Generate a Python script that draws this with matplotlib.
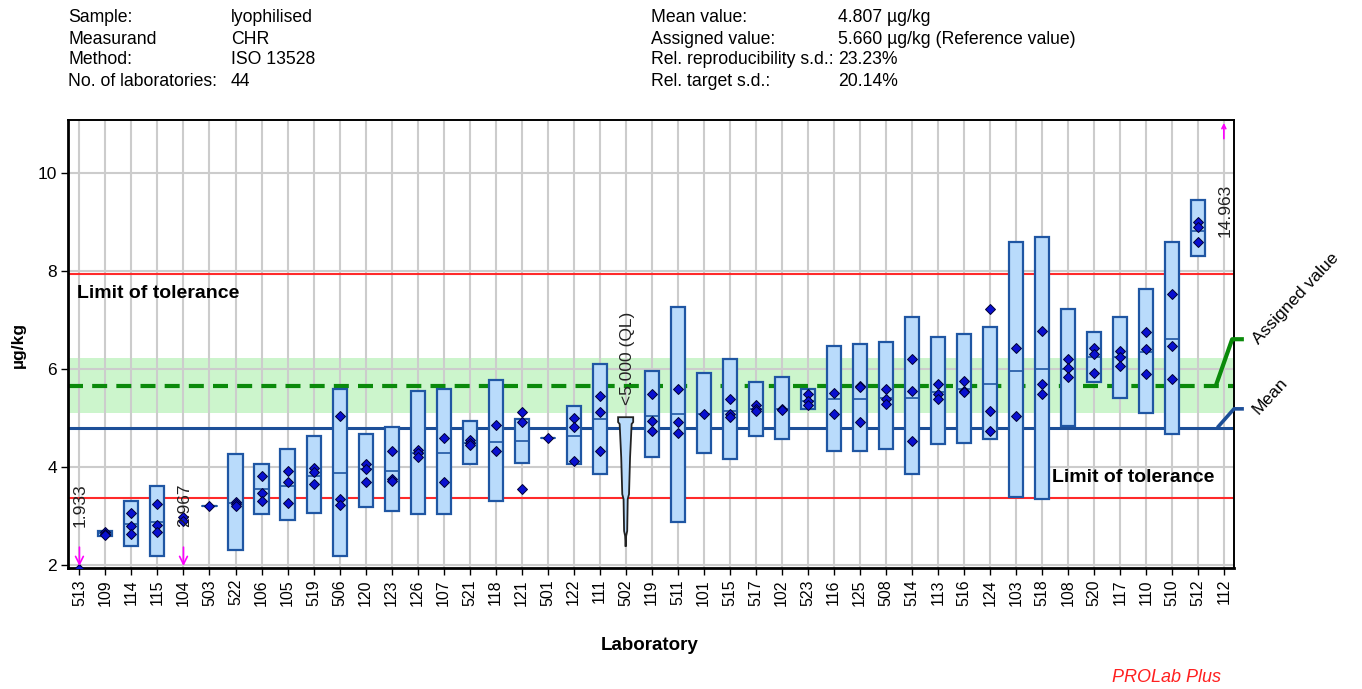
import matplotlib
matplotlib.use('Agg')
import matplotlib.pyplot as plt
from matplotlib.patches import Rectangle, Polygon
import numpy as np

plt.rcParams['font.family'] = ['Liberation Sans', 'DejaVu Sans']

# ---------------- data ----------------
labs = ['513', '109', '114', '115', '104', '503', '522', '106', '105', '519',
        '506', '120', '123', '126', '107', '521', '118', '121', '501', '122',
        '111', '502', '119', '511', '101', '515', '517', '102', '523', '116',
        '125', '508', '514', '113', '516', '124', '103', '518', '108', '520',
        '117', '110', '510', '512', '112']

box_low = [None, 2.60, 2.39, 2.18, None, 3.21, 2.32, 3.04, 2.93, 3.07,
           2.18, 3.18, 3.11, 3.04, 3.04, 4.06, 3.31, 4.09, 4.60, 4.06,
           3.86, None, 4.20, 2.89, 4.30, 4.16, 4.64, 4.57, 5.19, 4.33,
           4.33, 4.37, 3.86, 4.47, 4.50, 4.57, 3.40, 3.35, 4.84, 5.73,
           5.42, 5.11, 4.67, 8.30, None]
box_high = [None, 2.70, 3.31, 3.62, None, 3.21, 4.26, 4.06, 4.37, 4.64,
            5.59, 4.68, 4.82, 5.56, 5.59, 4.95, 5.77, 4.98, 4.60, 5.25,
            6.10, None, 5.97, 7.26, 5.93, 6.21, 5.73, 5.83, 5.59, 6.48,
            6.51, 6.55, 7.06, 6.65, 6.72, 6.85, 8.59, 8.69, 7.23, 6.75,
            7.06, 7.63, 8.59, 9.44, None]
box_mid = [None, 2.65, 2.85, 2.89, None, 3.21, 3.28, 3.55, 3.62, 3.82,
           3.89, 3.96, 3.92, 4.28, 4.30, 4.49, 4.51, 4.54, 4.60, 4.64,
           4.98, None, 5.05, 5.08, 5.08, 5.15, 5.19, 5.18, 5.36, 5.39,
           5.39, 5.42, 5.42, 5.53, 5.59, 5.69, 5.97, 6.00, 6.00, 6.24,
           6.24, 6.34, 6.61, 8.81, None]
replicates = [[1.933], [2.68, 2.64, 2.61], [3.07, 2.80, 2.64], [3.25, 2.83, 2.68],
              [2.99, 2.90], [3.21], [3.30, 3.26, 3.21], [3.82, 3.48, 3.31],
              [3.93, 3.69, 3.27], [3.98, 3.90, 3.65], [5.05, 3.35, 3.23],
              [4.07, 3.96, 3.69], [4.33, 3.76, 3.72], [4.36, 4.28, 4.20],
              [4.60, 3.69], [4.55, 4.49, 4.45], [4.87, 4.33], [5.12, 4.92, 3.55],
              [4.60], [5.01, 4.81, 4.13], [5.46, 5.12, 4.33], [],
              [5.49, 4.95, 4.74], [5.59, 4.92, 4.70], [5.08], [5.39, 5.08, 5.02],
              [5.27, 5.19, 5.15], [5.19, 5.17], [5.49, 5.36, 5.26], [5.52, 5.08],
              [5.66, 5.63, 4.92], [5.59, 5.39, 5.29], [6.20, 5.56, 4.54],
              [5.69, 5.49, 5.39], [5.76, 5.56, 5.53], [7.23, 5.15, 4.74],
              [6.44, 5.04], [6.78, 5.69, 5.49], [6.20, 6.03, 5.83],
              [6.44, 6.31, 5.93], [6.37, 6.24, 6.07], [6.75, 6.41, 5.90],
              [7.53, 6.47, 5.80], [9.00, 8.90, 8.59], []]

# lab 502 (below quantification limit) profile
ql_lab = '502'
ql_profile_y = [5.02, 4.92, 4.88, 4.20, 3.45, 3.35, 2.70, 2.60, 2.38]
ql_profile_hw = [0.29, 0.29, 0.23, 0.17, 0.13, 0.08, 0.06, 0.02, 0.0]

# out-of-range / flagged labels
value_labels = {'513': '1.933', '104': '2.967', '112': '14.963', '502': '<5.000 (QL)'}
down_arrows = ['513', '104']
up_arrows = ['112']

mean_value = 4.807
assigned_value = 5.660
tol_low, tol_high = 3.38, 7.94
band_low, band_high = 5.11, 6.22

header_left = [('Sample:', 'lyophilised'), ('Measurand', 'CHR'),
               ('Method:', 'ISO 13528'), ('No. of laboratories:', '44')]
header_right = [('Mean value:', '4.807 µg/kg'),
                ('Assigned value:', '5.660 µg/kg (Reference value)'),
                ('Rel. reproducibility s.d.:', '23.23%'),
                ('Rel. target s.d.:', '20.14%')]

# ---------------- figure ----------------
W, H = 1362, 689
fig = plt.figure(figsize=(W / 100, H / 100), dpi=100)
ax = fig.add_axes([68 / W, 1 - 568 / H, (1234 - 68) / W, (568 - 120) / H])

x = np.arange(len(labs))
ax.set_xlim(-0.44, 44.39)
ax.set_ylim(1.945, 11.08)

ax.axhspan(band_low, band_high, color='#ccf5cc', zorder=0.1, lw=0)
ax.set_xticks(x)
ax.set_xticklabels(labs, rotation=90)
ax.set_yticks([2, 4, 6, 8, 10])
ax.set_axisbelow(True)
ax.grid(True, color='#cccccc', lw=1.5)

ax.axhline(tol_high, color='#ff2a2a', lw=1.5, zorder=1)
ax.axhline(tol_low, color='#ff2a2a', lw=1.5, zorder=1)
ax.axhline(mean_value, color='#1d4f98', lw=2.2, zorder=1.5)
ax.axhline(assigned_value, color='#0a8a0a', lw=3.0, dashes=(3.6, 2.2), zorder=1.6)

bw = 0.54
box_face = '#b9dbfb'
box_edge = '#1f56a3'
for i, lab in enumerate(labs):
    lo, hi, md = box_low[i], box_high[i], box_mid[i]
    if lo is not None:
        ax.add_patch(Rectangle((i - bw / 2, lo), bw, hi - lo, facecolor=box_face,
                               edgecolor=box_edge, lw=1.6, zorder=3))
        ax.plot([i - bw / 2, i + bw / 2], [md, md], color=box_edge, lw=1.2, zorder=4)
    pts = replicates[i]
    if pts:
        ax.plot([i] * len(pts), pts, 'D', color='#0a10d0', mec='#000033',
                ms=5.2, mew=0.7, zorder=5, clip_on=True)

# QL profile for lab 502
qi = labs.index(ql_lab)
left = [(qi - hw, yv) for yv, hw in zip(ql_profile_y, ql_profile_hw)]
right = [(qi + hw, yv) for yv, hw in zip(ql_profile_y, ql_profile_hw)][::-1]
ax.add_patch(Polygon(left + right, closed=True, facecolor=box_face,
                     edgecolor='#222222', lw=1.3, zorder=3))

# value labels
label_y = {'513': 2.78, '104': 2.78, '112': 8.69, '502': 5.27}
label_dx = {'513': 0.02, '104': 0.05, '112': 0.04, '502': 0.06}
for lab, txt in value_labels.items():
    i = labs.index(lab)
    ax.text(i + label_dx[lab], label_y[lab], txt, rotation=90, ha='center',
            va='bottom', fontsize=12.5, color='#222222', zorder=6)

for lab in down_arrows:
    i = labs.index(lab)
    ax.annotate('', xy=(i, 1.985), xytext=(i, 2.37),
                arrowprops=dict(arrowstyle='->', color='#ff00ff', lw=1.2,
                                mutation_scale=14, shrinkA=0, shrinkB=0),
                annotation_clip=False, zorder=7)
for lab in up_arrows:
    i = labs.index(lab)
    ax.annotate('', xy=(i, 11.02), xytext=(i, 10.70),
                arrowprops=dict(arrowstyle='->', color='#ff00ff', lw=1.2,
                                mutation_scale=7, shrinkA=0, shrinkB=0),
                annotation_clip=False, zorder=7)

# limit of tolerance labels
ax.text(-0.08, 7.55, 'Limit of tolerance', fontsize=14, fontweight='bold',
        ha='left', va='center', zorder=6)
ax.text(43.62, 3.80, 'Limit of tolerance', fontsize=14, fontweight='bold',
        ha='right', va='center', zorder=6)

# right-side connectors and labels
ax.plot([43.69, 44.32, 44.77], [assigned_value, 6.61, 6.61], color='#0a8a0a',
        lw=3.0, clip_on=False, zorder=6, solid_capstyle='butt')
ax.plot([43.75, 44.39, 44.77], [mean_value, 5.19, 5.19], color='#1d4f98',
        lw=2.6, clip_on=False, zorder=6, solid_capstyle='butt')
ax.text(45.2, 6.55, 'Assigned value', rotation=47, rotation_mode='anchor',
        ha='left', va='center', fontsize=12.5, clip_on=False)
ax.text(45.2, 5.12, 'Mean', rotation=47, rotation_mode='anchor',
        ha='left', va='center', fontsize=12.5, clip_on=False)

# spines and ticks
for s in ['left', 'bottom']:
    ax.spines[s].set_linewidth(2.0)
for s in ['top', 'right']:
    ax.spines[s].set_linewidth(1.4)
ax.tick_params(axis='x', length=5, width=1, labelsize=11.5, pad=3)
ax.tick_params(axis='y', length=5, width=1, labelsize=12.5, pad=3)

# axis titles
fig.text(650 / W, 1 - 646 / H, 'Laboratory', ha='center', va='center',
         fontsize=13.5, fontweight='bold')
fig.text(18 / W, 1 - 345 / H, 'µg/kg', ha='center', va='center', rotation=90,
         fontsize=12.5, fontweight='bold')
fig.text(1166 / W, 1 - 678 / H, 'PROLab Plus', ha='center', va='center',
         fontsize=13, style='italic', color='#ff2020')

# header
rows_y = [17, 39, 60, 82]
for (k, v), yy in zip(header_left, rows_y):
    fig.text(68 / W, 1 - yy / H, k, ha='left', va='center', fontsize=12.7)
    fig.text(231 / W, 1 - yy / H, v, ha='left', va='center', fontsize=12.7)
for (k, v), yy in zip(header_right, rows_y):
    fig.text(651 / W, 1 - yy / H, k, ha='left', va='center', fontsize=12.7)
    fig.text(838 / W, 1 - yy / H, v, ha='left', va='center', fontsize=12.7)

fig.savefig('out.png', dpi=100)
